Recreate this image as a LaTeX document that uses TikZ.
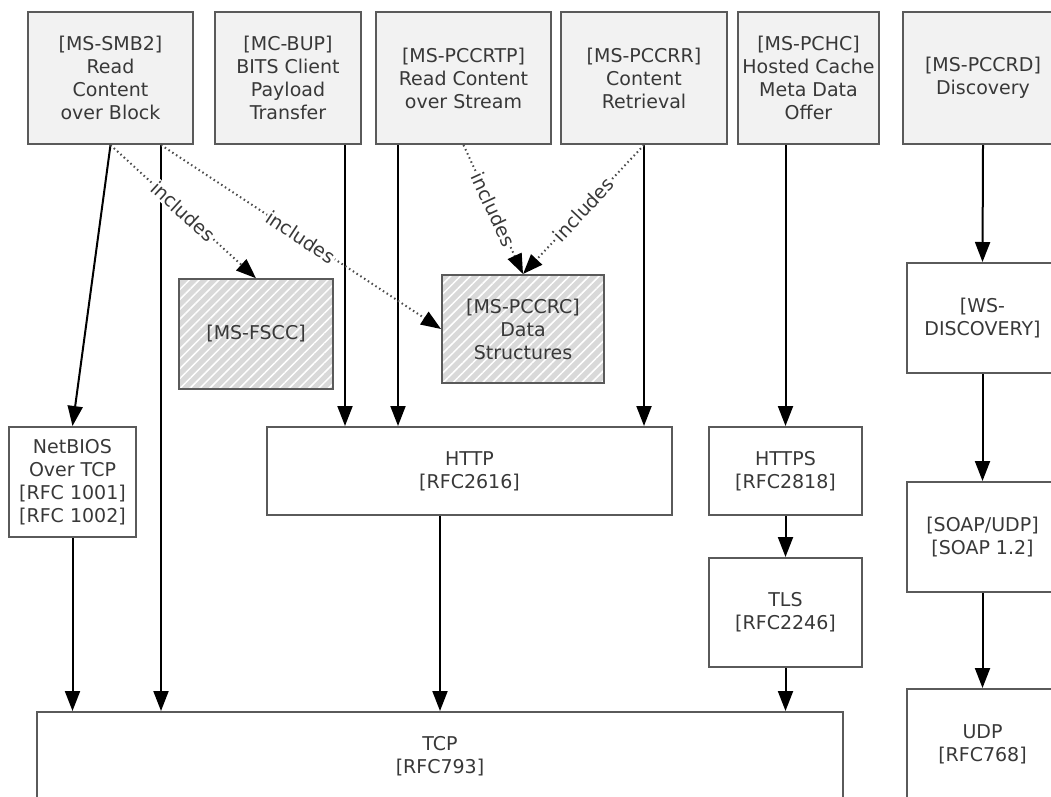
\documentclass[tikz,border=0pt]{standalone}
\usepackage{fontspec}
\setmainfont{DejaVu Sans}
\usetikzlibrary{arrows.meta,patterns.meta}

\definecolor{boxline}{HTML}{5A5A5A}
\definecolor{boxfill}{HTML}{F2F2F2}
\definecolor{hatchfill}{HTML}{D9D9D9}
\definecolor{txt}{HTML}{383838}

\tikzset{
  proto/.style={draw=boxline, line width=2pt, text=txt, align=center, inner sep=0pt,
    font=\fontsize{19}{23}\selectfont},
  spec/.style={proto, fill=boxfill},
  incl/.style={proto, preaction={fill=hatchfill},
    pattern={Lines[angle=45,distance=7pt,line width=1.5pt]}, pattern color=white},
  arr/.style={-{Triangle[length=20pt,width=15pt]}, line width=2pt, black},
  inc/.style={-{Triangle[length=20pt,width=15pt,color=black]}, line width=2pt,
    draw=black!70, dash pattern=on 1.5pt off 3pt},
  lbl/.style={fill=white, text=txt, font=\fontsize{19}{23}\selectfont, sloped, inner sep=1pt}
}

\begin{document}
\begin{tikzpicture}[x=1pt,y=-1pt]
  \useasboundingbox (0,0) rectangle (1051,796);
  \clip (0,0) rectangle (1051,796);

  % specs on top
  \node[spec, minimum width=165, minimum height=132] (smb)  at (110.5,78) {[MS-SMB2]\\Read\\Content\\over Block};
  \node[spec, minimum width=146, minimum height=132] (bup)  at (288,78)   {[MC-BUP]\\BITS Client\\Payload\\Transfer};
  \node[spec, minimum width=175, minimum height=132] (rtp)  at (463.5,78) {[MS-PCCRTP]\\Read Content\\over Stream};
  \node[spec, minimum width=166, minimum height=132] (rr)   at (644,78)   {[MS-PCCRR]\\Content\\Retrieval};
  \node[spec, minimum width=141, minimum height=132] (pchc) at (808.5,78) {[MS-PCHC]\\Hosted Cache\\Meta Data\\Offer};
  \node[spec, minimum width=160, minimum height=132] (rd)   at (983,78)   {[MS-PCCRD]\\Discovery};

  % included structures
  \node[incl, minimum width=154, minimum height=110] (fscc)  at (256,334) {[MS-FSCC]};
  \node[incl, minimum width=162, minimum height=108] (pccrc) at (523,329) {[MS-PCCRC]\\Data\\Structures};

  % transports
  \node[proto, minimum width=127, minimum height=110] (netbios) at (72.5,482)  {NetBIOS\\Over TCP\\{}[RFC 1001]\\{}[RFC 1002]};
  \node[proto, minimum width=405, minimum height=88]  (http)    at (469.5,471) {HTTP\\{}[RFC2616]};
  \node[proto, minimum width=153, minimum height=88]  (https)   at (785.5,471) {HTTPS\\{}[RFC2818]};
  \node[proto, minimum width=153, minimum height=109] (tls)     at (785.5,612.5) {TLS\\{}[RFC2246]};
  \node[proto, minimum width=806, minimum height=88]  (tcp)     at (440,756)   {TCP\\{}[RFC793]};
  \node[proto, minimum width=151, minimum height=110] (wsd)     at (982.5,318) {[WS-\\DISCOVERY]};
  \node[proto, minimum width=151, minimum height=110] (soap)    at (982.5,537) {[SOAP/UDP]\\{}[SOAP 1.2]};
  \node[proto, minimum width=151, minimum height=110] (udp)     at (982.5,744) {UDP\\{}[RFC768]};

  \coordinate (smbx) at (161,0);
  \coordinate (bupx) at (345,0);
  \coordinate (rtpx) at (398,0);

  % uses
  \draw[arr] (smb.south) -- (netbios.north);
  \draw[arr] (smb.south -| smbx) -- (tcp.north -| smbx);
  \draw[arr] (bup.south -| bupx) -- (http.north -| bupx);
  \draw[arr] (rtp.south -| rtpx) -- (http.north -| rtpx);
  \draw[arr] (rr.south) -- (rr.south |- http.north);
  \draw[arr] (pchc.south -| https.north) -- (https.north);
  \draw[arr] (https) -- (tls);
  \draw[arr] (tls.south) -- (tls.south |- tcp.north);
  \draw[arr] (netbios.south) -- (netbios.south |- tcp.north);
  \draw[arr] (http.south -| tcp.north) -- (tcp.north);
  \draw[arr] (rd.south) -- (wsd.north);
  \draw[arr] (wsd) -- (soap);
  \draw[arr] (soap) -- (udp);

  % includes
  \draw[inc] (smb.south) -- (fscc.north) node[lbl, midway] {includes};
  \draw[inc] (smb.south -| smbx) -- (pccrc.west) node[lbl, midway] {includes};
  \draw[inc] (rtp.south) -- (pccrc.north) node[lbl, midway] {includes};
  \draw[inc] (rr.south) -- (pccrc.north) node[lbl, midway] {includes};
\end{tikzpicture}
\end{document}
